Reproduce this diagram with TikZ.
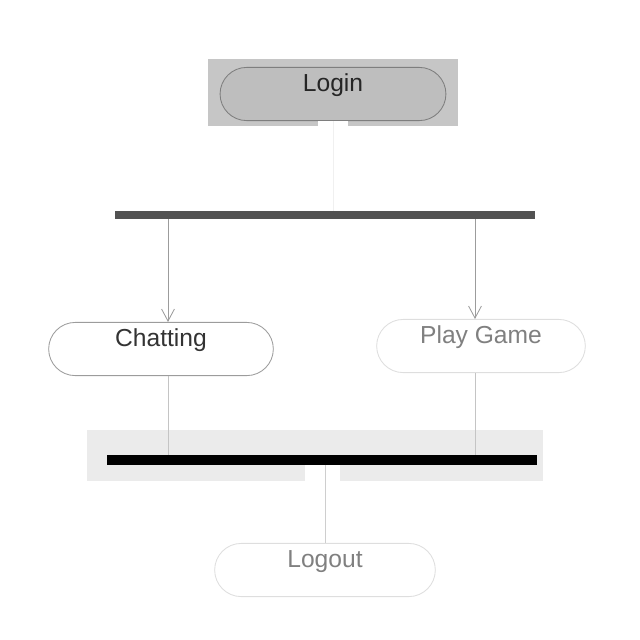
\documentclass[tikz,border=0pt]{standalone}
\usepackage{fontspec}
\setmainfont{Liberation Sans}
\usetikzlibrary{arrows.meta,positioning,shapes.misc}
\definecolor{loginbg}{HTML}{C6C6C6}
\definecolor{pill}{HTML}{BEBEBE}
\definecolor{rim}{HTML}{7E7E7E}
\definecolor{faint}{HTML}{DEDEDE}
\definecolor{wire}{HTML}{9C9C9C}
\definecolor{haze}{HTML}{EBEBEB}

\begin{document}
\begin{tikzpicture}[x=0.025cm,y=-0.025cm,
  act/.style={rounded rectangle,draw=#1,line width=0.6pt,minimum height=1.33cm,
    text height=4mm,text depth=5.5mm,font=\fontsize{17.5}{20}\selectfont},
  act/.default=wire,
  bar/.style={fill=#1,inner sep=0pt,minimum height=0.19cm},
  arr/.style={-{Straight Barb[length=3mm,width=3.2mm]},line width=0.6pt,wire}]
\useasboundingbox (0,0) rectangle (640,640);
% shaded backdrops
\fill[loginbg] (208,59) rectangle (458,126);
\fill[haze] (87,430) rectangle (543,481);
% actions
\node[act=rim,fill=pill,minimum width=5.88cm,text=black!85] (login) at (333,94) {Login};
\node[act,fill=white,minimum width=5.85cm,text=black!80] (chat) at (161,349) {Chatting};
\node[act=faint,fill=white,minimum width=5.45cm,text=gray] (game) at (481,346)
  {Play Game};
\node[act=faint,fill=white,minimum width=5.75cm,text=gray] (logout) at (325,570)
  {Logout};
% fork and join
\node[bar=black!68,minimum width=10.5cm] (fork) at (325,215) {};
\node[bar=black,minimum width=10.73cm,minimum height=0.23cm] (join) at (322,460) {};
\fill[white] (318,121) rectangle (348,127);
\fill[white] (305,465) rectangle (340,481);
% flows
\draw[black!6,line width=0.6pt] (login.south) -- (fork.north -| login.south);
\draw[arr] (fork.south -| 168,0) -- (chat.north -| 168,0);
\draw[arr] (fork.south -| 475,0) -- (game.north -| 475,0);
\draw[wire!60,line width=0.6pt] (chat.south -| 168,0) -- (join.north -| 168,0);
\draw[wire!60,line width=0.6pt] (game.south -| 475,0) -- (join.north -| 475,0);
\draw[wire!50,line width=0.6pt] (join.south -| logout.north) -- (logout.north);
\end{tikzpicture}
\end{document}
